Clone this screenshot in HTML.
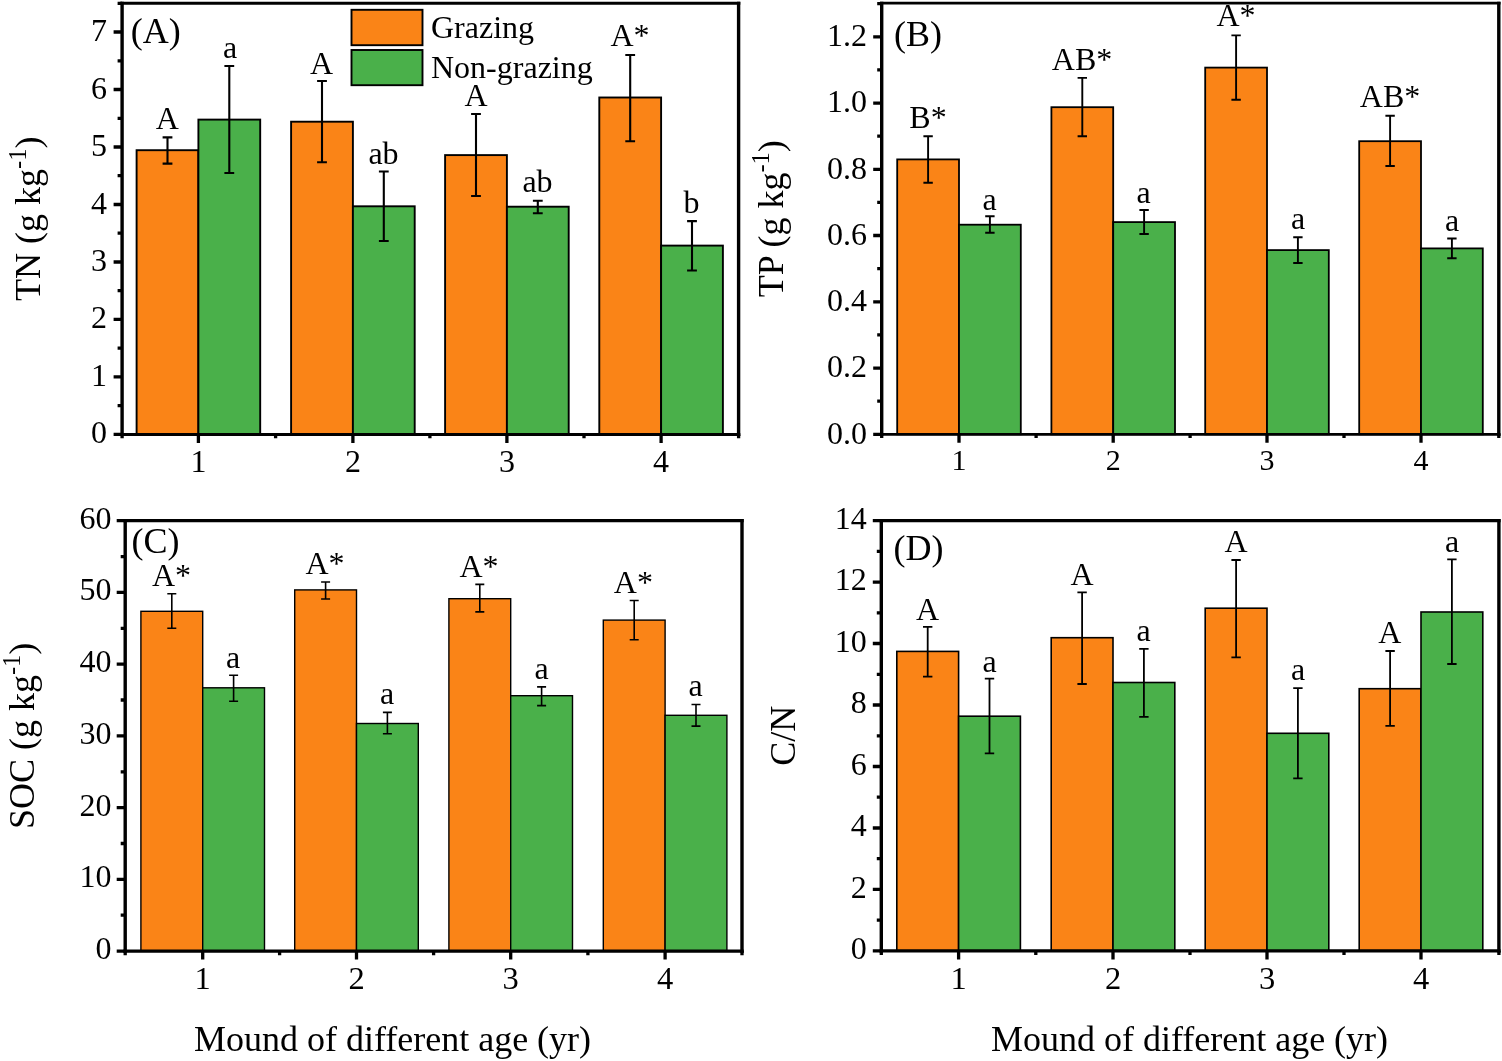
<!DOCTYPE html>
<html lang="en">
<head>
<meta charset="utf-8">
<title>Soil nutrients of mounds under grazing and non-grazing</title>
<style>
html,body{margin:0;padding:0;background:#fff;}
body{width:1502px;height:1061px;overflow:hidden;}
svg{display:block;font-family:"Liberation Serif","Times New Roman",serif;fill:#000;}
</style>
</head>
<body>
<svg width="1502" height="1061" viewBox="0 0 1502 1061">
<rect width="1502" height="1061" fill="#fff"/>
<g id="panel-a">
<rect x="136.6" y="150.2" width="61.8" height="284.2" fill="#FA8417" stroke="#000" stroke-width="1.9"/>
<rect x="198.4" y="119.6" width="61.8" height="314.8" fill="#4AB04A" stroke="#000" stroke-width="1.9"/>
<rect x="291.1" y="121.7" width="61.8" height="312.7" fill="#FA8417" stroke="#000" stroke-width="1.9"/>
<rect x="352.9" y="206.3" width="61.8" height="228.1" fill="#4AB04A" stroke="#000" stroke-width="1.9"/>
<rect x="445.1" y="155.1" width="61.8" height="279.3" fill="#FA8417" stroke="#000" stroke-width="1.9"/>
<rect x="506.9" y="206.7" width="61.8" height="227.7" fill="#4AB04A" stroke="#000" stroke-width="1.9"/>
<rect x="599.3" y="97.5" width="61.8" height="336.9" fill="#FA8417" stroke="#000" stroke-width="1.9"/>
<rect x="661.1" y="245.6" width="61.8" height="188.8" fill="#4AB04A" stroke="#000" stroke-width="1.9"/>
<path d="M167.5 137.4V163.6M162.6 137.4H172.4M162.6 163.6H172.4" stroke="#000" stroke-width="2.1" fill="none"/>
<path d="M229.3 66.0V173.0M224.4 66.0H234.2M224.4 173.0H234.2" stroke="#000" stroke-width="2.1" fill="none"/>
<path d="M322.0 81.0V162.3M317.1 81.0H326.9M317.1 162.3H326.9" stroke="#000" stroke-width="2.1" fill="none"/>
<path d="M383.8 171.5V241.0M378.9 171.5H388.7M378.9 241.0H388.7" stroke="#000" stroke-width="2.1" fill="none"/>
<path d="M476.0 114.0V196.0M471.1 114.0H480.9M471.1 196.0H480.9" stroke="#000" stroke-width="2.1" fill="none"/>
<path d="M537.8 200.7V213.2M532.9 200.7H542.7M532.9 213.2H542.7" stroke="#000" stroke-width="2.1" fill="none"/>
<path d="M630.2 55.0V141.2M625.3 55.0H635.1M625.3 141.2H635.1" stroke="#000" stroke-width="2.1" fill="none"/>
<path d="M692.0 221.1V270.5M687.1 221.1H696.9M687.1 270.5H696.9" stroke="#000" stroke-width="2.1" fill="none"/>
<path d="M122.1 1.7V435.9M738.6 1.7V435.9" stroke="#000" stroke-width="3.4" fill="none"/>
<path d="M120.4 3.2H740.3M120.4 434.4H740.3" stroke="#000" stroke-width="3.0" fill="none"/>
<text x="107.0" y="443.4" font-size="32" text-anchor="end">0</text>
<text x="107.0" y="385.9" font-size="32" text-anchor="end">1</text>
<text x="107.0" y="328.4" font-size="32" text-anchor="end">2</text>
<text x="107.0" y="271.0" font-size="32" text-anchor="end">3</text>
<text x="107.0" y="213.5" font-size="32" text-anchor="end">4</text>
<text x="107.0" y="156.0" font-size="32" text-anchor="end">5</text>
<text x="107.0" y="98.5" font-size="32" text-anchor="end">6</text>
<text x="107.0" y="41.0" font-size="32" text-anchor="end">7</text>
<path d="M122.1 434.4h-8.5M122.1 405.7h-4.5M122.1 376.9h-8.5M122.1 348.2h-4.5M122.1 319.4h-8.5M122.1 290.7h-4.5M122.1 262.0h-8.5M122.1 233.2h-4.5M122.1 204.5h-8.5M122.1 175.7h-4.5M122.1 147.0h-8.5M122.1 118.3h-4.5M122.1 89.5h-8.5M122.1 60.8h-4.5M122.1 32.0h-8.5M122.1 3.3h-4.5M198.4 434.4v8.5M352.9 434.4v8.5M506.9 434.4v8.5M661.1 434.4v8.5M122.1 434.4v3.8M275.6 434.4v3.8M429.9 434.4v3.8M584.0 434.4v3.8M738.6 434.4v3.8" stroke="#000" stroke-width="3.3" fill="none"/>
<text x="198.4" y="472.0" font-size="32" text-anchor="middle">1</text>
<text x="352.9" y="472.0" font-size="32" text-anchor="middle">2</text>
<text x="506.9" y="472.0" font-size="32" text-anchor="middle">3</text>
<text x="661.1" y="472.0" font-size="32" text-anchor="middle">4</text>
<text x="167.3" y="128.9" font-size="32" text-anchor="middle">A</text>
<text x="230.0" y="58.3" font-size="32" text-anchor="middle">a</text>
<text x="321.5" y="74.3" font-size="32" text-anchor="middle">A</text>
<text x="383.5" y="163.6" font-size="32" text-anchor="middle">ab</text>
<text x="476.0" y="105.5" font-size="32" text-anchor="middle">A</text>
<text x="537.5" y="191.7" font-size="32" text-anchor="middle">ab</text>
<text x="630.0" y="45.8" font-size="32" text-anchor="middle">A*</text>
<text x="691.6" y="213.2" font-size="32" text-anchor="middle">b</text>
<text x="130.8" y="43.0" font-size="36">(A)</text>
<text transform="translate(40.1 218.8) rotate(-90)" font-size="36" text-anchor="middle">TN (g kg<tspan dy="-14.2" font-size="24.5">-1</tspan><tspan dy="14.2">)</tspan></text>
</g>
<g id="legend">
<rect x="351.5" y="9.8" width="71" height="35.4" fill="#FA8417" stroke="#000" stroke-width="1.9"/>
<rect x="351.5" y="50" width="71" height="35.2" fill="#4AB04A" stroke="#000" stroke-width="1.9"/>
<text x="431" y="38.3" font-size="32">Grazing</text>
<text x="431" y="77.9" font-size="32">Non-grazing</text>
</g>
<g id="panel-b">
<rect x="897.2" y="159.4" width="61.8" height="274.9" fill="#FA8417" stroke="#000" stroke-width="1.8"/>
<rect x="959.0" y="224.7" width="61.8" height="209.6" fill="#4AB04A" stroke="#000" stroke-width="1.8"/>
<rect x="1051.4" y="107.2" width="61.8" height="327.1" fill="#FA8417" stroke="#000" stroke-width="1.8"/>
<rect x="1113.2" y="222.1" width="61.8" height="212.2" fill="#4AB04A" stroke="#000" stroke-width="1.8"/>
<rect x="1205.2" y="67.6" width="61.8" height="366.7" fill="#FA8417" stroke="#000" stroke-width="1.8"/>
<rect x="1267.0" y="250.1" width="61.8" height="184.2" fill="#4AB04A" stroke="#000" stroke-width="1.8"/>
<rect x="1359.2" y="141.2" width="61.8" height="293.1" fill="#FA8417" stroke="#000" stroke-width="1.8"/>
<rect x="1421.0" y="248.4" width="61.8" height="185.9" fill="#4AB04A" stroke="#000" stroke-width="1.8"/>
<path d="M928.1 136.2V182.8M923.4 136.2H932.8M923.4 182.8H932.8" stroke="#000" stroke-width="1.9" fill="none"/>
<path d="M989.9 216.3V232.8M985.2 216.3H994.6M985.2 232.8H994.6" stroke="#000" stroke-width="1.9" fill="none"/>
<path d="M1082.3 77.9V136.2M1077.6 77.9H1087.0M1077.6 136.2H1087.0" stroke="#000" stroke-width="1.9" fill="none"/>
<path d="M1144.1 210.0V234.0M1139.4 210.0H1148.8M1139.4 234.0H1148.8" stroke="#000" stroke-width="1.9" fill="none"/>
<path d="M1236.1 35.4V99.8M1231.4 35.4H1240.8M1231.4 99.8H1240.8" stroke="#000" stroke-width="1.9" fill="none"/>
<path d="M1297.9 237.2V263.0M1293.2 237.2H1302.6M1293.2 263.0H1302.6" stroke="#000" stroke-width="1.9" fill="none"/>
<path d="M1390.1 115.7V166.0M1385.4 115.7H1394.8M1385.4 166.0H1394.8" stroke="#000" stroke-width="1.9" fill="none"/>
<path d="M1451.9 238.5V258.3M1447.2 238.5H1456.6M1447.2 258.3H1456.6" stroke="#000" stroke-width="1.9" fill="none"/>
<path d="M881.7 1.8V435.7M1498.8 1.8V435.7" stroke="#000" stroke-width="3.4" fill="none"/>
<path d="M880.0 3.1H1500.5M880.0 434.3H1500.5" stroke="#000" stroke-width="2.7" fill="none"/>
<text x="867.0" y="443.5" font-size="32" text-anchor="end">0.0</text>
<text x="867.0" y="377.2" font-size="32" text-anchor="end">0.2</text>
<text x="867.0" y="311.0" font-size="32" text-anchor="end">0.4</text>
<text x="867.0" y="244.7" font-size="32" text-anchor="end">0.6</text>
<text x="867.0" y="178.5" font-size="32" text-anchor="end">0.8</text>
<text x="867.0" y="112.3" font-size="32" text-anchor="end">1.0</text>
<text x="867.0" y="46.0" font-size="32" text-anchor="end">1.2</text>
<path d="M881.7 434.3h-8.5M881.7 401.2h-4.5M881.7 368.1h-8.5M881.7 334.9h-4.5M881.7 301.8h-8.5M881.7 268.7h-4.5M881.7 235.5h-8.5M881.7 202.4h-4.5M881.7 169.3h-8.5M881.7 136.2h-4.5M881.7 103.1h-8.5M881.7 69.9h-4.5M881.7 36.8h-8.5M881.7 3.7h-4.5M959.0 434.3v8.5M1113.2 434.3v8.5M1267.0 434.3v8.5M1421.0 434.3v8.5M881.7 434.3v3.7M1036.1 434.3v3.7M1190.1 434.3v3.7M1344.0 434.3v3.7M1498.8 434.3v3.7" stroke="#000" stroke-width="3.3" fill="none"/>
<text x="959.0" y="469.7" font-size="30" text-anchor="middle">1</text>
<text x="1113.2" y="469.7" font-size="30" text-anchor="middle">2</text>
<text x="1267.0" y="469.7" font-size="30" text-anchor="middle">3</text>
<text x="1421.0" y="469.7" font-size="30" text-anchor="middle">4</text>
<text x="928.0" y="127.6" font-size="32" text-anchor="middle">B*</text>
<text x="989.5" y="210.2" font-size="32" text-anchor="middle">a</text>
<text x="1082.0" y="69.5" font-size="32" text-anchor="middle">AB*</text>
<text x="1143.6" y="202.6" font-size="32" text-anchor="middle">a</text>
<text x="1236.0" y="26.0" font-size="32" text-anchor="middle">A*</text>
<text x="1298.0" y="228.6" font-size="32" text-anchor="middle">a</text>
<text x="1390.0" y="107.0" font-size="32" text-anchor="middle">AB*</text>
<text x="1452.0" y="231.1" font-size="32" text-anchor="middle">a</text>
<text x="894.0" y="45.6" font-size="36">(B)</text>
<text transform="translate(783.3 218.7) rotate(-90)" font-size="36" text-anchor="middle">TP (g kg<tspan dy="-14.2" font-size="24.5">-1</tspan><tspan dy="14.2">)</tspan></text>
</g>
<g id="panel-c">
<rect x="140.9" y="611.3" width="61.8" height="339.8" fill="#FA8417" stroke="#000" stroke-width="1.4"/>
<rect x="202.7" y="687.8" width="61.8" height="263.3" fill="#4AB04A" stroke="#000" stroke-width="1.4"/>
<rect x="294.7" y="589.9" width="61.8" height="361.2" fill="#FA8417" stroke="#000" stroke-width="1.4"/>
<rect x="356.5" y="723.5" width="61.8" height="227.6" fill="#4AB04A" stroke="#000" stroke-width="1.4"/>
<rect x="448.9" y="598.7" width="61.8" height="352.4" fill="#FA8417" stroke="#000" stroke-width="1.4"/>
<rect x="510.7" y="695.7" width="61.8" height="255.4" fill="#4AB04A" stroke="#000" stroke-width="1.4"/>
<rect x="603.3" y="620.1" width="61.8" height="331.0" fill="#FA8417" stroke="#000" stroke-width="1.4"/>
<rect x="665.1" y="715.3" width="61.8" height="235.8" fill="#4AB04A" stroke="#000" stroke-width="1.4"/>
<path d="M171.8 593.7V628.3M167.3 593.7H176.3M167.3 628.3H176.3" stroke="#000" stroke-width="1.6" fill="none"/>
<path d="M233.6 675.2V701.2M229.1 675.2H238.1M229.1 701.2H238.1" stroke="#000" stroke-width="1.6" fill="none"/>
<path d="M325.6 582.0V599.0M321.1 582.0H330.1M321.1 599.0H330.1" stroke="#000" stroke-width="1.6" fill="none"/>
<path d="M387.4 712.4V733.7M382.9 712.4H391.9M382.9 733.7H391.9" stroke="#000" stroke-width="1.6" fill="none"/>
<path d="M479.8 584.4V611.9M475.3 584.4H484.3M475.3 611.9H484.3" stroke="#000" stroke-width="1.6" fill="none"/>
<path d="M541.6 686.9V705.6M537.1 686.9H546.1M537.1 705.6H546.1" stroke="#000" stroke-width="1.6" fill="none"/>
<path d="M634.2 600.5V639.7M629.7 600.5H638.7M629.7 639.7H638.7" stroke="#000" stroke-width="1.6" fill="none"/>
<path d="M696.0 704.5V726.1M691.5 704.5H700.5M691.5 726.1H700.5" stroke="#000" stroke-width="1.6" fill="none"/>
<path d="M125.2 519.1V952.8M742.0 519.1V952.8" stroke="#000" stroke-width="3.4" fill="none"/>
<path d="M123.5 520.7H743.7M123.5 951.1H743.7" stroke="#000" stroke-width="3.3" fill="none"/>
<text x="111.6" y="959.1" font-size="32" text-anchor="end">0</text>
<text x="111.6" y="887.4" font-size="32" text-anchor="end">10</text>
<text x="111.6" y="815.6" font-size="32" text-anchor="end">20</text>
<text x="111.6" y="743.9" font-size="32" text-anchor="end">30</text>
<text x="111.6" y="672.2" font-size="32" text-anchor="end">40</text>
<text x="111.6" y="600.4" font-size="32" text-anchor="end">50</text>
<text x="111.6" y="528.7" font-size="32" text-anchor="end">60</text>
<path d="M125.2 951.1h-8.5M125.2 915.2h-4.5M125.2 879.4h-8.5M125.2 843.5h-4.5M125.2 807.6h-8.5M125.2 771.8h-4.5M125.2 735.9h-8.5M125.2 700.0h-4.5M125.2 664.2h-8.5M125.2 628.3h-4.5M125.2 592.4h-8.5M125.2 556.6h-4.5M125.2 520.7h-8.5M202.7 951.1v8.5M356.5 951.1v8.5M510.7 951.1v8.5M665.1 951.1v8.5M125.2 951.1v4.2M279.6 951.1v4.2M433.6 951.1v4.2M587.9 951.1v4.2M742.0 951.1v4.2" stroke="#000" stroke-width="3.3" fill="none"/>
<text x="202.7" y="989.1" font-size="32.5" text-anchor="middle">1</text>
<text x="356.5" y="989.1" font-size="32.5" text-anchor="middle">2</text>
<text x="510.7" y="989.1" font-size="32.5" text-anchor="middle">3</text>
<text x="665.1" y="989.1" font-size="32.5" text-anchor="middle">4</text>
<text x="171.5" y="585.6" font-size="32" text-anchor="middle">A*</text>
<text x="233.0" y="667.6" font-size="32" text-anchor="middle">a</text>
<text x="325.0" y="573.8" font-size="32" text-anchor="middle">A*</text>
<text x="387.0" y="704.2" font-size="32" text-anchor="middle">a</text>
<text x="479.0" y="576.8" font-size="32" text-anchor="middle">A*</text>
<text x="541.5" y="679.3" font-size="32" text-anchor="middle">a</text>
<text x="633.4" y="592.9" font-size="32" text-anchor="middle">A*</text>
<text x="695.5" y="696.3" font-size="32" text-anchor="middle">a</text>
<text x="131.5" y="553.0" font-size="36">(C)</text>
<text transform="translate(34.3 735.9) rotate(-90)" font-size="36" text-anchor="middle">SOC (g kg<tspan dy="-14.2" font-size="24.5">-1</tspan><tspan dy="14.2">)</tspan></text>
</g>
<g id="panel-d">
<rect x="896.8" y="651.4" width="61.8" height="299.5" fill="#FA8417" stroke="#000" stroke-width="1.6"/>
<rect x="958.6" y="716.2" width="61.8" height="234.7" fill="#4AB04A" stroke="#000" stroke-width="1.6"/>
<rect x="1051.2" y="637.7" width="61.8" height="313.2" fill="#FA8417" stroke="#000" stroke-width="1.6"/>
<rect x="1113.0" y="682.5" width="61.8" height="268.4" fill="#4AB04A" stroke="#000" stroke-width="1.6"/>
<rect x="1205.2" y="608.2" width="61.8" height="342.7" fill="#FA8417" stroke="#000" stroke-width="1.6"/>
<rect x="1267.0" y="733.3" width="61.8" height="217.6" fill="#4AB04A" stroke="#000" stroke-width="1.6"/>
<rect x="1359.2" y="688.7" width="61.8" height="262.2" fill="#FA8417" stroke="#000" stroke-width="1.6"/>
<rect x="1421.0" y="612.0" width="61.8" height="338.9" fill="#4AB04A" stroke="#000" stroke-width="1.6"/>
<path d="M927.7 626.8V676.6M923.0 626.8H932.4M923.0 676.6H932.4" stroke="#000" stroke-width="1.8" fill="none"/>
<path d="M989.5 678.7V753.4M984.8 678.7H994.2M984.8 753.4H994.2" stroke="#000" stroke-width="1.8" fill="none"/>
<path d="M1082.1 592.3V684.0M1077.4 592.3H1086.8M1077.4 684.0H1086.8" stroke="#000" stroke-width="1.8" fill="none"/>
<path d="M1143.9 648.8V716.8M1139.2 648.8H1148.6M1139.2 716.8H1148.6" stroke="#000" stroke-width="1.8" fill="none"/>
<path d="M1236.1 560.0V657.3M1231.4 560.0H1240.8M1231.4 657.3H1240.8" stroke="#000" stroke-width="1.8" fill="none"/>
<path d="M1297.9 688.2V778.4M1293.2 688.2H1302.6M1293.2 778.4H1302.6" stroke="#000" stroke-width="1.8" fill="none"/>
<path d="M1390.1 651.0V725.9M1385.4 651.0H1394.8M1385.4 725.9H1394.8" stroke="#000" stroke-width="1.8" fill="none"/>
<path d="M1451.9 559.4V664.0M1447.2 559.4H1456.6M1447.2 664.0H1456.6" stroke="#000" stroke-width="1.8" fill="none"/>
<path d="M881.3 519.0V952.5M1498.9 519.0V952.5" stroke="#000" stroke-width="3.4" fill="none"/>
<path d="M879.6 520.6H1500.6M879.6 950.9H1500.6" stroke="#000" stroke-width="3.3" fill="none"/>
<text x="866.8" y="959.1" font-size="32" text-anchor="end">0</text>
<text x="866.8" y="897.6" font-size="32" text-anchor="end">2</text>
<text x="866.8" y="836.2" font-size="32" text-anchor="end">4</text>
<text x="866.8" y="774.7" font-size="32" text-anchor="end">6</text>
<text x="866.8" y="713.2" font-size="32" text-anchor="end">8</text>
<text x="866.8" y="651.7" font-size="32" text-anchor="end">10</text>
<text x="866.8" y="590.3" font-size="32" text-anchor="end">12</text>
<text x="866.8" y="528.8" font-size="32" text-anchor="end">14</text>
<path d="M881.3 950.9h-8.5M881.3 920.2h-4.5M881.3 889.4h-8.5M881.3 858.7h-4.5M881.3 828.0h-8.5M881.3 797.2h-4.5M881.3 766.5h-8.5M881.3 735.8h-4.5M881.3 705.0h-8.5M881.3 674.3h-4.5M881.3 643.5h-8.5M881.3 612.8h-4.5M881.3 582.1h-8.5M881.3 551.3h-4.5M881.3 520.6h-8.5M958.6 950.9v8.5M1113.0 950.9v8.5M1267.0 950.9v8.5M1421.0 950.9v8.5M881.3 950.9v4.2M1035.8 950.9v4.2M1190.0 950.9v4.2M1344.0 950.9v4.2M1498.9 950.9v4.2" stroke="#000" stroke-width="3.3" fill="none"/>
<text x="958.6" y="988.9" font-size="32.5" text-anchor="middle">1</text>
<text x="1113.0" y="988.9" font-size="32.5" text-anchor="middle">2</text>
<text x="1267.0" y="988.9" font-size="32.5" text-anchor="middle">3</text>
<text x="1421.0" y="988.9" font-size="32.5" text-anchor="middle">4</text>
<text x="927.6" y="619.7" font-size="32" text-anchor="middle">A</text>
<text x="989.5" y="671.9" font-size="32" text-anchor="middle">a</text>
<text x="1082.0" y="584.9" font-size="32" text-anchor="middle">A</text>
<text x="1143.7" y="641.3" font-size="32" text-anchor="middle">a</text>
<text x="1236.0" y="552.0" font-size="32" text-anchor="middle">A</text>
<text x="1298.0" y="680.0" font-size="32" text-anchor="middle">a</text>
<text x="1389.7" y="643.4" font-size="32" text-anchor="middle">A</text>
<text x="1452.0" y="552.0" font-size="32" text-anchor="middle">a</text>
<text x="893.5" y="559.5" font-size="36">(D)</text>
<text transform="translate(795.3 735.8) rotate(-90)" font-size="36" text-anchor="middle">C/N</text>
</g>
<text x="392.5" y="1051.1" font-size="36" text-anchor="middle">Mound of different age (yr)</text>
<text x="1189.5" y="1051.1" font-size="36" text-anchor="middle">Mound of different age (yr)</text>
</svg>
</body>
</html>
